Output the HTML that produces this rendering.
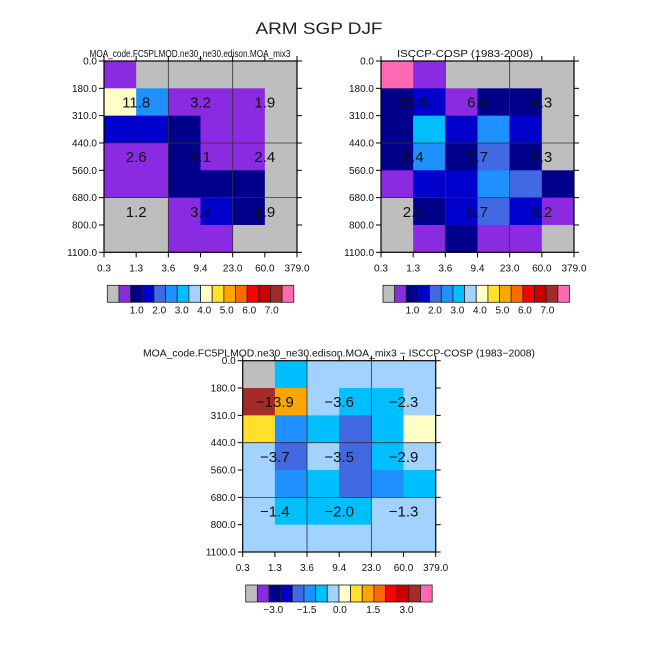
<!DOCTYPE html>
<html><head><meta charset="utf-8"><style>
html,body{margin:0;padding:0;background:#fff;}
svg{display:block;font-family:"Liberation Sans","DejaVu Sans",sans-serif;}
</style></head><body>
<svg id="chart" width="648" height="648" viewBox="0 0 648 648" xmlns="http://www.w3.org/2000/svg">
<text x="319" y="34" font-size="17" text-anchor="middle" fill="#222" textLength="127" lengthAdjust="spacingAndGlyphs">ARM SGP DJF</text>
</svg>
<script>
// shared axis data
const xTickLabels = ["0.3","1.3","3.6","9.4","23.0","60.0","379.0"];
const yTickLabels = ["0.0","180.0","310.0","440.0","560.0","680.0","800.0","1100.0"];
const palette = ["#bebebe","#8a2be2","#00008b","#0000cd","#4169e1","#1e90ff","#00bfff","#a2d2ff","#ffffc8","#ffe02a","#ffa500","#ff6a00","#ff0000","#c80000","#a52a2a","#ff69b4"];
const absCbLabels = ["1.0","2.0","3.0","4.0","5.0","6.0","7.0"];
const diffCbLabels = ["\u22123.0","\u22121.5","0.0","1.5","3.0"];

// model panel: color-class per cell (rows top->bottom, cols left->right)
const modelCells = [
 [1,0,0,0,0,0],
 [8,5,1,1,1,0],
 [3,3,2,1,1,0],
 [1,1,2,1,1,0],
 [1,1,2,2,2,0],
 [0,0,1,3,2,0],
 [0,0,1,1,0,0]];
const modelValues = ["11.8","3.2","1.9","2.6","4.1","2.4","1.2","3.7","1.9"];
// obs panel
const obsCells = [
 [15,1,0,0,0,0],
 [2,3,1,2,2,0],
 [2,6,3,5,3,0],
 [2,5,2,4,2,0],
 [1,3,3,5,4,2],
 [0,2,3,4,3,1],
 [0,1,2,1,1,0]];
const obsValues = ["25.6","6.8","4.3","6.4","7.7","5.3","2.5","5.7","3.2"];
// difference panel
const diffCells = [
 [0,6,7,7,7,7],
 [14,10,7,6,6,7],
 [9,5,6,4,6,8],
 [7,4,7,4,6,7],
 [7,5,6,4,5,6],
 [7,6,6,6,7,7],
 [7,7,7,7,7,7]];
const diffValues = ["\u221213.9","\u22123.6","\u22122.3","\u22123.7","\u22123.5","\u22122.9","\u22121.4","\u22122.0","\u22121.3"];

const svg = document.getElementById('chart');
const NS = "http://www.w3.org/2000/svg";
function mk(tag, attrs, parent){ const e=document.createElementNS(NS,tag); for(const k in attrs) e.setAttribute(k,attrs[k]); (parent||svg).appendChild(e); return e; }

function panel(cfg){
  const g = mk('g',{});
  
  
  const x0=cfg.x, y0=cfg.y, W=193, H=191.3;
  const nc=xTickLabels.length-1, nr=yTickLabels.length-1;
  const xs = i => x0 + i*W/nc;
  const ys = j => y0 + j*H/nr;
  // subtitle
  const st = mk('text',{x:cfg.tx, y:y0-4, 'font-size':10, 'text-anchor':'middle', fill:'#111', textLength:cfg.tl, lengthAdjust:'spacingAndGlyphs'}, g);
  st.textContent = cfg.title;
  
  
  // cells
  cfg.cells.forEach((row,j)=>row.forEach((c,i)=>{
    const r = mk('rect',{x:xs(i), y:ys(j), width:W/nc+0.4, height:H/nr+0.4, fill:palette[c]}, g);
    
    
  }));
  // grid lines
  [2,4].forEach(i=>mk('line',{x1:xs(i),x2:xs(i),y1:y0,y2:y0+H,stroke:'#333','stroke-width':0.8},g));
  [3,5].forEach(j=>mk('line',{x1:x0,x2:x0+W,y1:ys(j),y2:ys(j),stroke:'#333','stroke-width':0.8},g));
  // frame
  const fr = mk('rect',{x:x0,y:y0,width:W,height:H,fill:'none',stroke:'#000','stroke-width':1.2},g);
  
  
  // ticks + labels
  xTickLabels.forEach((t,i)=>{
    mk('line',{x1:xs(i),x2:xs(i),y1:y0+H,y2:y0+H+5,stroke:'#000'},g);
    mk('line',{x1:xs(i),x2:xs(i),y1:y0,y2:y0-5,stroke:'#000'},g);
    const tx = mk('text',{x:xs(i), y:y0+H+19, 'font-size':10, 'text-anchor':'middle', fill:'#111'},g);
    tx.textContent=t;
    
    
  });
  yTickLabels.forEach((t,j)=>{
    mk('line',{x1:x0-5,x2:x0,y1:ys(j),y2:ys(j),stroke:'#000'},g);
    mk('line',{x1:x0+W,x2:x0+W+5,y1:ys(j),y2:ys(j),stroke:'#000'},g);
    const ty = mk('text',{x:x0-7, y:ys(j)+3.5, 'font-size':10, 'text-anchor':'end', fill:'#111'},g);
    ty.textContent=t;
    
    
  });
  // value labels at 3x3 aggregated positions
  const lx=[1,3,5], ly=[1.5,3.5,5.5];
  cfg.values.forEach((v,k)=>{
    const vx = mk('text',{x:xs(lx[k%3]), y:ys(ly[Math.floor(k/3)])+5.5, 'font-size':15, 'text-anchor':'middle', fill:'#111'},g);
    vx.textContent=v;
    
    
  });
  // colorbar
  const cbx=cfg.cbx, cby=y0+H+33, cbw=186.5, cbh=17, bw=cbw/palette.length;
  const cb = mk('g',{},g);
  
  
  palette.forEach((c,k)=>{
    const b = mk('rect',{x:cbx+k*bw,y:cby,width:bw,height:cbh,fill:c,stroke:'#222','stroke-width':0.8},cb);
    
    
  });
  cfg.cbLabels.forEach((t,k)=>{
    const l = mk('text',{x:cbx+cfg.cbStart+k*cfg.cbStep, y:cby+cbh+11, 'font-size':10, 'text-anchor':'middle', fill:'#111'},cb);
    l.textContent=t;
    
    
  });
}

panel({name:'model-panel', x:104, y:61, cells:modelCells, values:modelValues,
  title:'MOA_code.FC5PLMOD.ne30_ne30.edison.MOA_mix3', tx:190, tl:201,
  cbx:107.3, cbLabels:absCbLabels, cbStart:29.4, cbStep:22.5});
panel({name:'obs-panel', x:381, y:61, cells:obsCells, values:obsValues,
  title:'ISCCP-COSP (1983-2008)', tx:465, tl:136,
  cbx:383, cbLabels:absCbLabels, cbStart:29.4, cbStep:22.5});
panel({name:'difference-panel', x:242.7, y:360.7, cells:diffCells, values:diffValues,
  title:'MOA_code.FC5PLMOD.ne30_ne30.edison.MOA_mix3 \u2212 ISCCP-COSP (1983\u22122008)', tx:339, tl:392,
  cbx:245.7, cbLabels:diffCbLabels, cbStart:27.6, cbStep:33.3});
</script>
</body></html>
